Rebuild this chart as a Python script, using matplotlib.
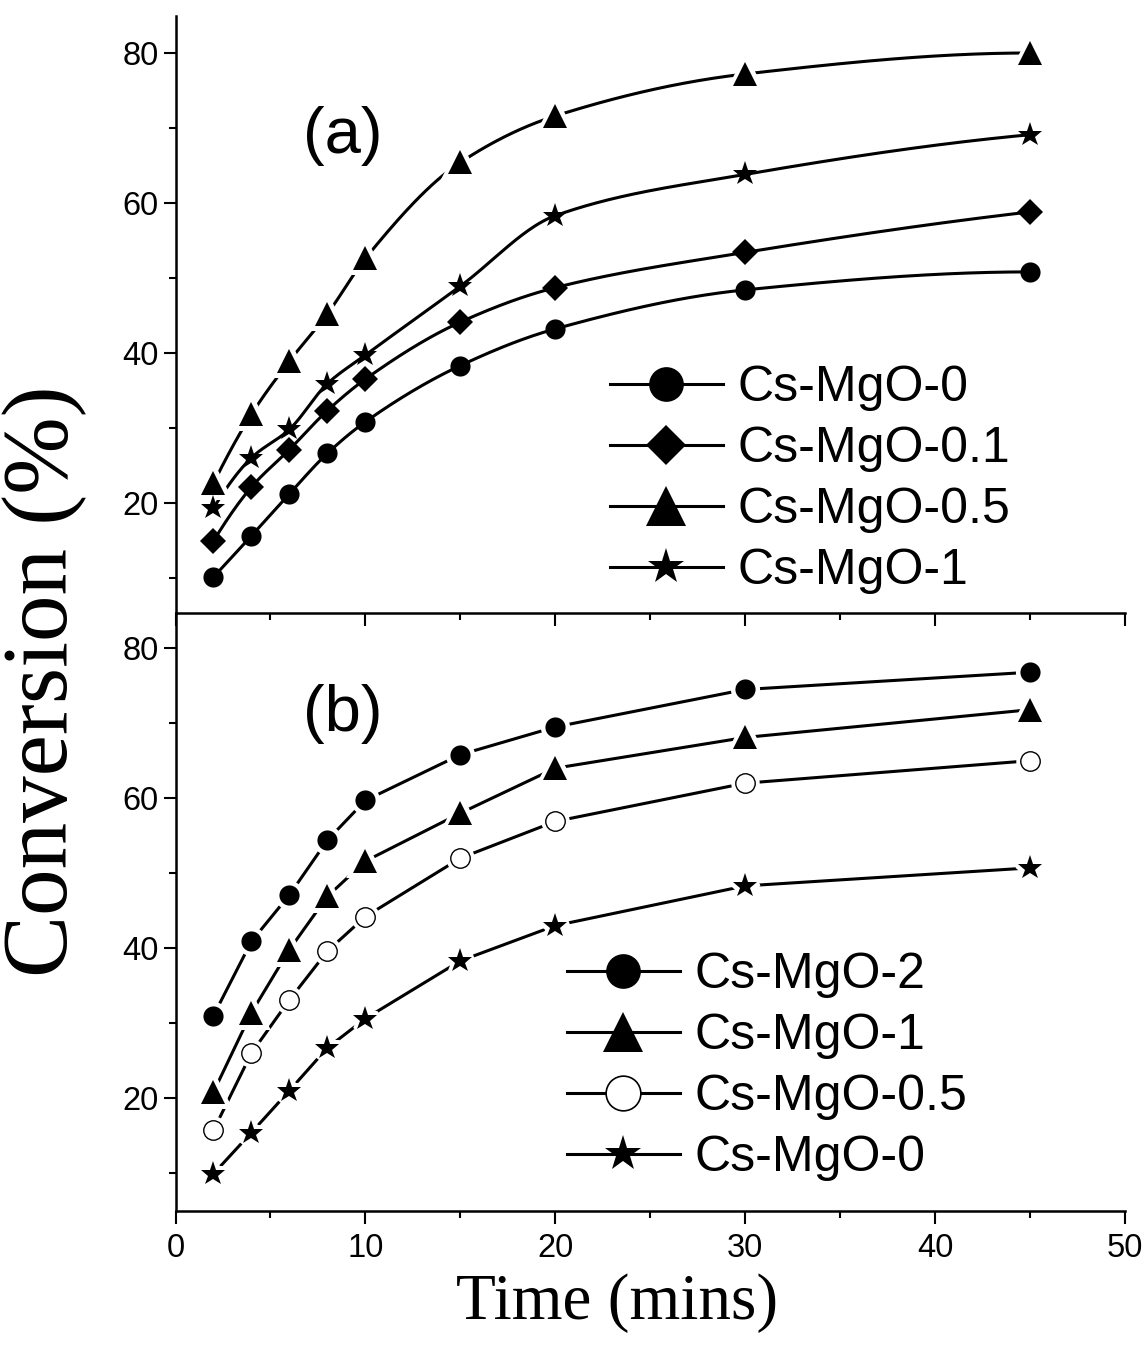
import numpy as np
import matplotlib
matplotlib.use("Agg")
import matplotlib.pyplot as plt
from matplotlib.lines import Line2D
from matplotlib.ticker import MultipleLocator

# ---------------- data ----------------
time_min = [2, 4, 6, 8, 10, 15, 20, 30, 45]

# panel (a)
a_labels = ["Cs-MgO-0", "Cs-MgO-0.1", "Cs-MgO-0.5", "Cs-MgO-1"]
a_mgo_0 = [10.1, 15.6, 21.2, 26.6, 30.8, 38.3, 43.2, 48.4, 50.8]
a_mgo_01 = [14.9, 22.1, 27.1, 32.3, 36.5, 44.1, 48.7, 53.4, 58.8]
a_mgo_05 = [22.6, 31.8, 38.9, 45.2, 52.6, 65.4, 71.6, 77.2, 80.0]
a_mgo_1 = [19.3, 26.0, 29.8, 35.9, 39.7, 48.9, 58.3, 63.8, 69.1]

# panel (b)
b_labels = ["Cs-MgO-2", "Cs-MgO-1", "Cs-MgO-0.5", "Cs-MgO-0"]
b_mgo_2 = [31.0, 40.9, 47.1, 54.4, 59.7, 65.8, 69.5, 74.5, 76.8]
b_mgo_1 = [20.8, 31.4, 39.8, 46.9, 51.6, 58.0, 64.0, 68.1, 71.8]
b_mgo_05 = [15.7, 26.0, 33.1, 39.6, 44.2, 52.0, 56.9, 62.0, 65.0]
b_mgo_0 = [9.9, 15.4, 21.0, 26.7, 30.6, 38.3, 43.0, 48.3, 50.7]

x_ticks = [0, 10, 20, 30, 40, 50]
y_ticks = [20, 40, 60, 80]


def pchip_curve(x, y, n=400):
    """Monotone cubic (PCHIP) curve through the data points, for smooth drawing."""
    x = np.asarray(x, float)
    y = np.asarray(y, float)
    h = np.diff(x)
    d = np.diff(y) / h
    m = np.zeros_like(y)
    for k in range(1, len(x) - 1):
        if d[k - 1] * d[k] > 0:
            w1 = 2 * h[k] + h[k - 1]
            w2 = h[k] + 2 * h[k - 1]
            m[k] = (w1 + w2) / (w1 / d[k - 1] + w2 / d[k])
    m0 = ((2 * h[0] + h[1]) * d[0] - h[0] * d[1]) / (h[0] + h[1])
    if np.sign(m0) != np.sign(d[0]):
        m0 = 0.0
    m[0] = m0
    mn = ((2 * h[-1] + h[-2]) * d[-1] - h[-1] * d[-2]) / (h[-1] + h[-2])
    if np.sign(mn) != np.sign(d[-1]):
        mn = 0.0
    m[-1] = mn
    xs = np.linspace(x[0], x[-1], n)
    idx = np.clip(np.searchsorted(x, xs) - 1, 0, len(x) - 2)
    t = (xs - x[idx]) / h[idx]
    h00 = 2 * t**3 - 3 * t**2 + 1
    h10 = t**3 - 2 * t**2 + t
    h01 = -2 * t**3 + 3 * t**2
    h11 = t**3 - t**2
    ys = h00 * y[idx] + h10 * h[idx] * m[idx] + h01 * y[idx + 1] + h11 * h[idx] * m[idx + 1]
    return xs, ys


SANS = ["Liberation Sans", "DejaVu Sans"]
SERIF = ["Liberation Serif", "DejaVu Serif"]
plt.rcParams["font.family"] = SANS

W, H = 1145, 1345
fig = plt.figure(figsize=(W / 100, H / 100), dpi=100)

left = 175.5 / W
width = 949.5 / W
ax_a = fig.add_axes([left, 1 - 613 / H, width, (613 - 15.5) / H])
ax_b = fig.add_axes([left, 1 - 1210.5 / H, width, (1210.5 - 613) / H])

LW = 2.2
GAP = 6.5  # white halo edge width (pt) around markers to create line gaps


def draw_series(ax, x, y, marker, ms, smooth, gap, mfc="black", mew=0.0):
    if smooth:
        xs, ys = pchip_curve(x, y)
    else:
        xs, ys = x, y
    ax.plot(xs, ys, color="black", lw=LW, zorder=2, solid_capstyle="butt")
    if gap:
        ax.plot(x, y, ls="none", marker=marker, ms=ms, mfc="white", mec="white",
                mew=GAP, zorder=3)
    ax.plot(x, y, ls="none", marker=marker, ms=ms, mfc=mfc, mec="black",
            mew=mew, zorder=4)


# panel (a): smooth curves, gaps only at triangles
draw_series(ax_a, time_min, a_mgo_0, "o", 14.5, True, False)
draw_series(ax_a, time_min, a_mgo_01, "D", 13.0, True, False)
draw_series(ax_a, time_min, a_mgo_05, "^", 17.5, True, True)
draw_series(ax_a, time_min, a_mgo_1, "*", 18.5, True, False)

# panel (b): straight segments with gaps at every marker
draw_series(ax_b, time_min, b_mgo_2, "o", 14.5, False, True)
draw_series(ax_b, time_min, b_mgo_1, "^", 17.5, False, True)
draw_series(ax_b, time_min, b_mgo_05, "o", 14.0, False, True, mfc="white", mew=1.0)
draw_series(ax_b, time_min, b_mgo_0, "*", 18.5, False, True)

for ax, ylim in ((ax_a, (5.3, 85.0)), (ax_b, (5.0, 84.7))):
    ax.set_xlim(0, 50)
    ax.set_ylim(*ylim)
    ax.spines["top"].set_visible(False)
    ax.spines["right"].set_visible(False)
    for s in ("left", "bottom"):
        ax.spines[s].set_linewidth(1.8)
    ax.set_xticks(x_ticks)
    ax.xaxis.set_minor_locator(MultipleLocator(5))
    ax.set_yticks(y_ticks)
    ax.yaxis.set_minor_locator(MultipleLocator(10))
    ax.tick_params(which="major", direction="out", length=9, width=1.5,
                   labelsize=23.5, pad=3)
    ax.tick_params(which="minor", direction="out", length=5, width=1.5)
    ax.tick_params(axis="x", which="major", pad=7)
    ax.patch.set_alpha(0)
    for lab in ax.get_xticklabels() + ax.get_yticklabels():
        lab.set_fontfamily(SANS)

ax_a.tick_params(axis="x", labelbottom=False)
ax_a.set_zorder(3)
ax_b.set_zorder(2)
ax_b.set_xticklabels([str(v) for v in x_ticks])

fig.text(343 / W, 1 - 136 / H, "(a)", fontsize=47, family=SANS, ha="center", va="center")
fig.text(343 / W, 1 - 714 / H, "(b)", fontsize=47, family=SANS, ha="center", va="center")

fig.text(45 / W, 1 - 681 / H, "Conversion (%)", rotation=90, fontsize=67,
         family=SERIF, ha="center", va="center")
fig.text(617 / W, 1 - 1303 / H, "Time (mins)", fontsize=47, family=SERIF,
         ha="center", va="center")

# legends
LEG_FS = 36


def proxy(marker, ms, mfc="black", mew=0.0):
    return Line2D([], [], color="black", lw=LW, marker=marker, ms=ms, mfc=mfc,
                  mec="black", mew=mew)


handles_a = [proxy("o", 25), proxy("D", 20), proxy("^", 29), proxy("*", 27)]
handles_b = [proxy("o", 25), proxy("^", 29), proxy("o", 25, mfc="white", mew=1.2),
             proxy("*", 27)]

leg_kw = dict(frameon=False, handlelength=2.25, handletextpad=0.3,
              labelspacing=0.30, borderpad=0, borderaxespad=0, markerscale=1.0,
              loc="upper left", prop={"family": SANS, "size": LEG_FS})
la = ax_a.legend(handles_a, a_labels, bbox_to_anchor=(610 / W, 1 - 365 / H),
                 bbox_transform=fig.transFigure, **leg_kw)
lb = ax_b.legend(handles_b, b_labels, bbox_to_anchor=(567 / W, 1 - 952 / H),
                 bbox_transform=fig.transFigure, **leg_kw)

fig.savefig("out.png", dpi=100, facecolor="white")
